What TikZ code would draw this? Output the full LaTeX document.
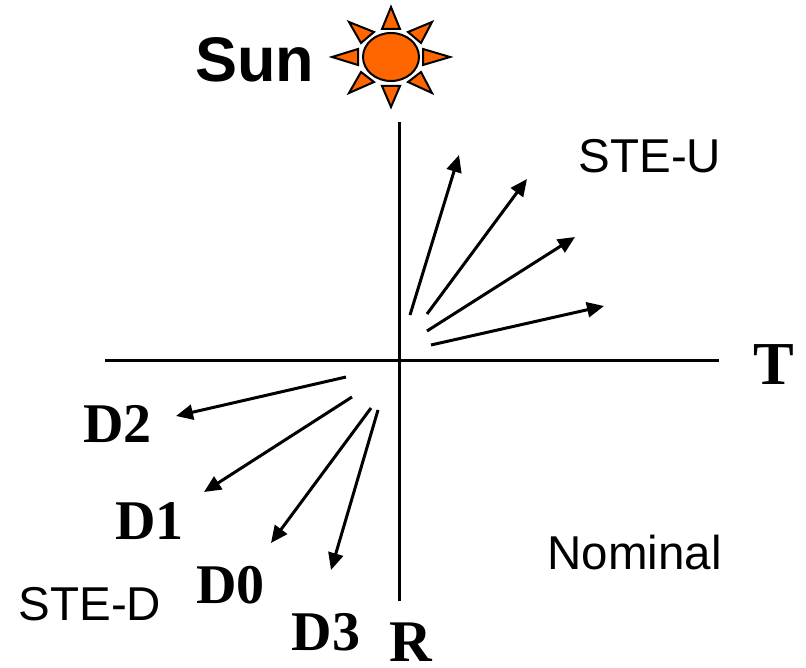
\documentclass[tikz,border=0pt]{standalone}
\usepackage{fontspec}
\setmainfont{Liberation Serif}
\newfontfamily\arialf{Liberation Sans}
\usetikzlibrary{arrows.meta}
\definecolor{sunc}{RGB}{255,102,0}
\tikzset{
 axisline/.style={line width=3pt,black},
 beam/.style={line width=3pt,black,-{Triangle[length=17pt,width=15pt]}},
 serif/.style={font=\fontsize{56}{56}\selectfont\bfseries,inner sep=0pt},
 bigserif/.style={font=\fontsize{61}{61}\selectfont\bfseries,inner sep=0pt},
 rlabel/.style={font=\fontsize{59}{59}\selectfont\bfseries,inner sep=0pt},
 sans/.style={font=\arialf\fontsize{47.5}{47.5}\selectfont,inner sep=0pt},
 sunlabel/.style={font=\arialf\fontsize{63}{63}\selectfont\bfseries,inner sep=0pt},
 sunpart/.style={fill=sunc,draw=black,line width=2pt,line join=miter}
}
\begin{document}
\begin{tikzpicture}[x=1pt,y=-1pt]
\useasboundingbox (0,0) rectangle (806,668);
\coordinate (rt) at (399,122); \coordinate (rb) at (399,601);
\coordinate (tl) at (105,360); \coordinate (tr) at (719,360);
\draw[axisline] (rt)--(rb);
\draw[axisline] (tl)--(tr);
\foreach \a/\b/\c/\d in {410/315/459/155, 427/314/527/179, 427/331/575/237, 431/345/604/306, 346/377/176/416, 352/397/204/492, 371/408/271/543, 378/410/331/570}{
 \coordinate (s) at (\a,\b); \coordinate (e) at (\c,\d);
 \draw[beam] (s)--(e);
}
\node[sunlabel] (sun) at (254.5,60) {Sun};
\node[sans] (steu) at (650,156) {STE-U};
\node[sans] (nom) at (634.5,553) {Nominal};
\node[sans] (sted) at (90,604) {STE-D};
\node[bigserif] (T) at (774,365) {T};
\node[rlabel] (R) at (410.5,642) {R};
\node[serif] (D2) at (117.5,424) {D2};
\node[serif] (D1) at (149.5,521) {D1};
\node[serif] (D0) at (230.5,585) {D0};
\node[serif] (D3) at (326,632) {D3};
\draw[sunpart] (391,57) ellipse (28 and 24);
\foreach \x/\y/\xa/\ya/\xb/\yb in {
 391/7/382/29/400/29,
 391/107/382/86/400/86,
 332/57/358/49/358/65,
 450/57/423/49/423/65,
 349/22/374/32/361/43,
 432/22/408/32/421/43,
 349/93/374/82/361/72,
 432/93/408/82/421/72}{
 \draw[sunpart] (\x,\y)--(\xa,\ya)--(\xb,\yb)--cycle;
}
\end{tikzpicture}
\end{document}
